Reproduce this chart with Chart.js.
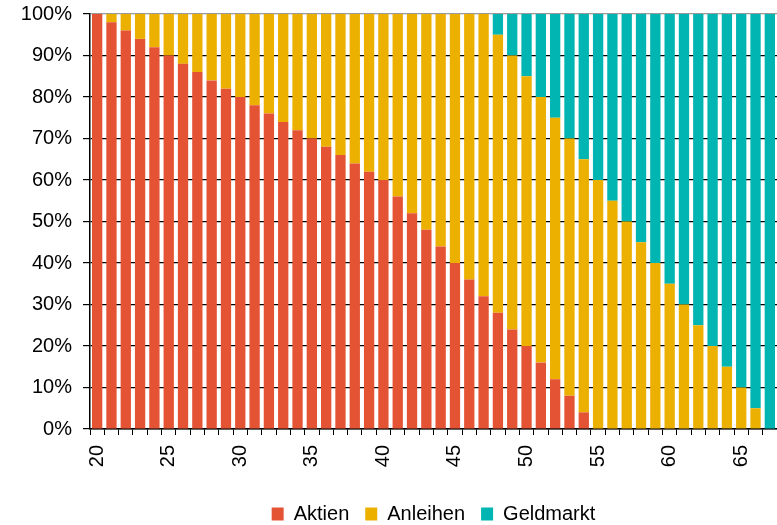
<!DOCTYPE html>
<html>
<head>
<meta charset="utf-8">
<script src="https://cdn.jsdelivr.net/npm/chart.js@4"></script>
<style>
  html, body { margin: 0; padding: 0; background: #fff; }
  #wrap { width: 777px; height: 525px; position: relative; overflow: hidden; }
</style>
</head>
<body>
<div id="wrap"><canvas id="c" width="777" height="525"></canvas></div>
<script>
// Alter (Jahre)
const ages = [20,21,22,23,24,25,26,27,28,29,30,31,32,33,34,35,36,37,38,39,40,41,42,43,
              44,45,46,47,48,49,50,51,52,53,54,55,56,57,58,59,60,61,62,63,64,65,66,67];

// Anteile in Prozent
const aktien = [100,98,96,94,92,90,88,86,84,82,80,78,76,74,72,70,68,66,64,62,60,56,52,48,
                44,40,36,32,28,24,20,16,12,8,4,0,0,0,0,0,0,0,0,0,0,0,0,0];
const anleihen = [0,2,4,6,8,10,12,14,16,18,20,22,24,26,28,30,32,34,36,38,40,44,48,52,
                  56,60,64,68,67,66,65,64,63,62,61,60,55,50,45,40,35,30,25,20,15,10,5,0];
const geldmarkt = [0,0,0,0,0,0,0,0,0,0,0,0,0,0,0,0,0,0,0,0,0,0,0,0,
                   0,0,0,0,5,10,15,20,25,30,35,40,45,50,55,60,65,70,75,80,85,90,95,100];

const seriesNames = ['Aktien', 'Anleihen', 'Geldmarkt'];
const colors = ['#E55335', '#EBB000', '#00B5B2'];

const FONT = 'Liberation Sans, Arial, sans-serif';

new Chart(document.getElementById('c'), {
  type: 'bar',
  data: {
    labels: ages,
    datasets: [aktien, anleihen, geldmarkt].map((d, i) => ({
      label: seriesNames[i],
      data: d,
      backgroundColor: colors[i],
      borderWidth: 0,
      barPercentage: 0.72,
      categoryPercentage: 1.0
    }))
  },
  options: {
    responsive: false,
    animation: false,
    layout: { padding: { top: 14, right: 0, left: 0, bottom: -9 } },
    plugins: {
      tooltip: { enabled: false },
      legend: {
        position: 'bottom',
        fullSize: false,
        labels: {
          font: { family: FONT, size: 20 },
          color: '#000',
          boxWidth: 12,
          boxHeight: 13,
          padding: 16,
          useBorderRadius: false
        }
      }
    },
    scales: {
      x: {
        stacked: true,
        grid: {
          drawOnChartArea: false,
          drawTicks: true,
          tickLength: 6,
          tickColor: '#000',
          offset: true
        },
        border: { color: '#000', width: 1.5 },
        ticks: {
          autoSkip: false,
          minRotation: 90,
          maxRotation: 90,
          padding: 10,
          color: '#000',
          font: { family: FONT, size: 20 },
          callback: function (v, i) { return ages[i] % 5 === 0 ? String(ages[i]) : ''; }
        },
        afterFit: function (s) {
          s.height = 59;
          s.paddingLeft = 0;
          s.paddingRight = 0;
        }
      },
      y: {
        stacked: true,
        min: 0,
        max: 100,
        grid: {
          color: function (ctx) { return ctx.tick && ctx.tick.value === 100 ? '#999' : '#000'; },
          lineWidth: 1.2,
          tickLength: 7,
          tickColor: '#000'
        },
        border: { color: '#000', width: 1.5 },
        ticks: {
          stepSize: 10,
          padding: 11,
          color: '#000',
          font: { family: FONT, size: 20 },
          callback: function (v) { return v + '%'; }
        },
        afterFit: function (s) {
          s.width = 90;
          s.paddingTop = 0;
          s.paddingBottom = 0;
        }
      }
    }
  }
});
</script>
</body>
</html>
